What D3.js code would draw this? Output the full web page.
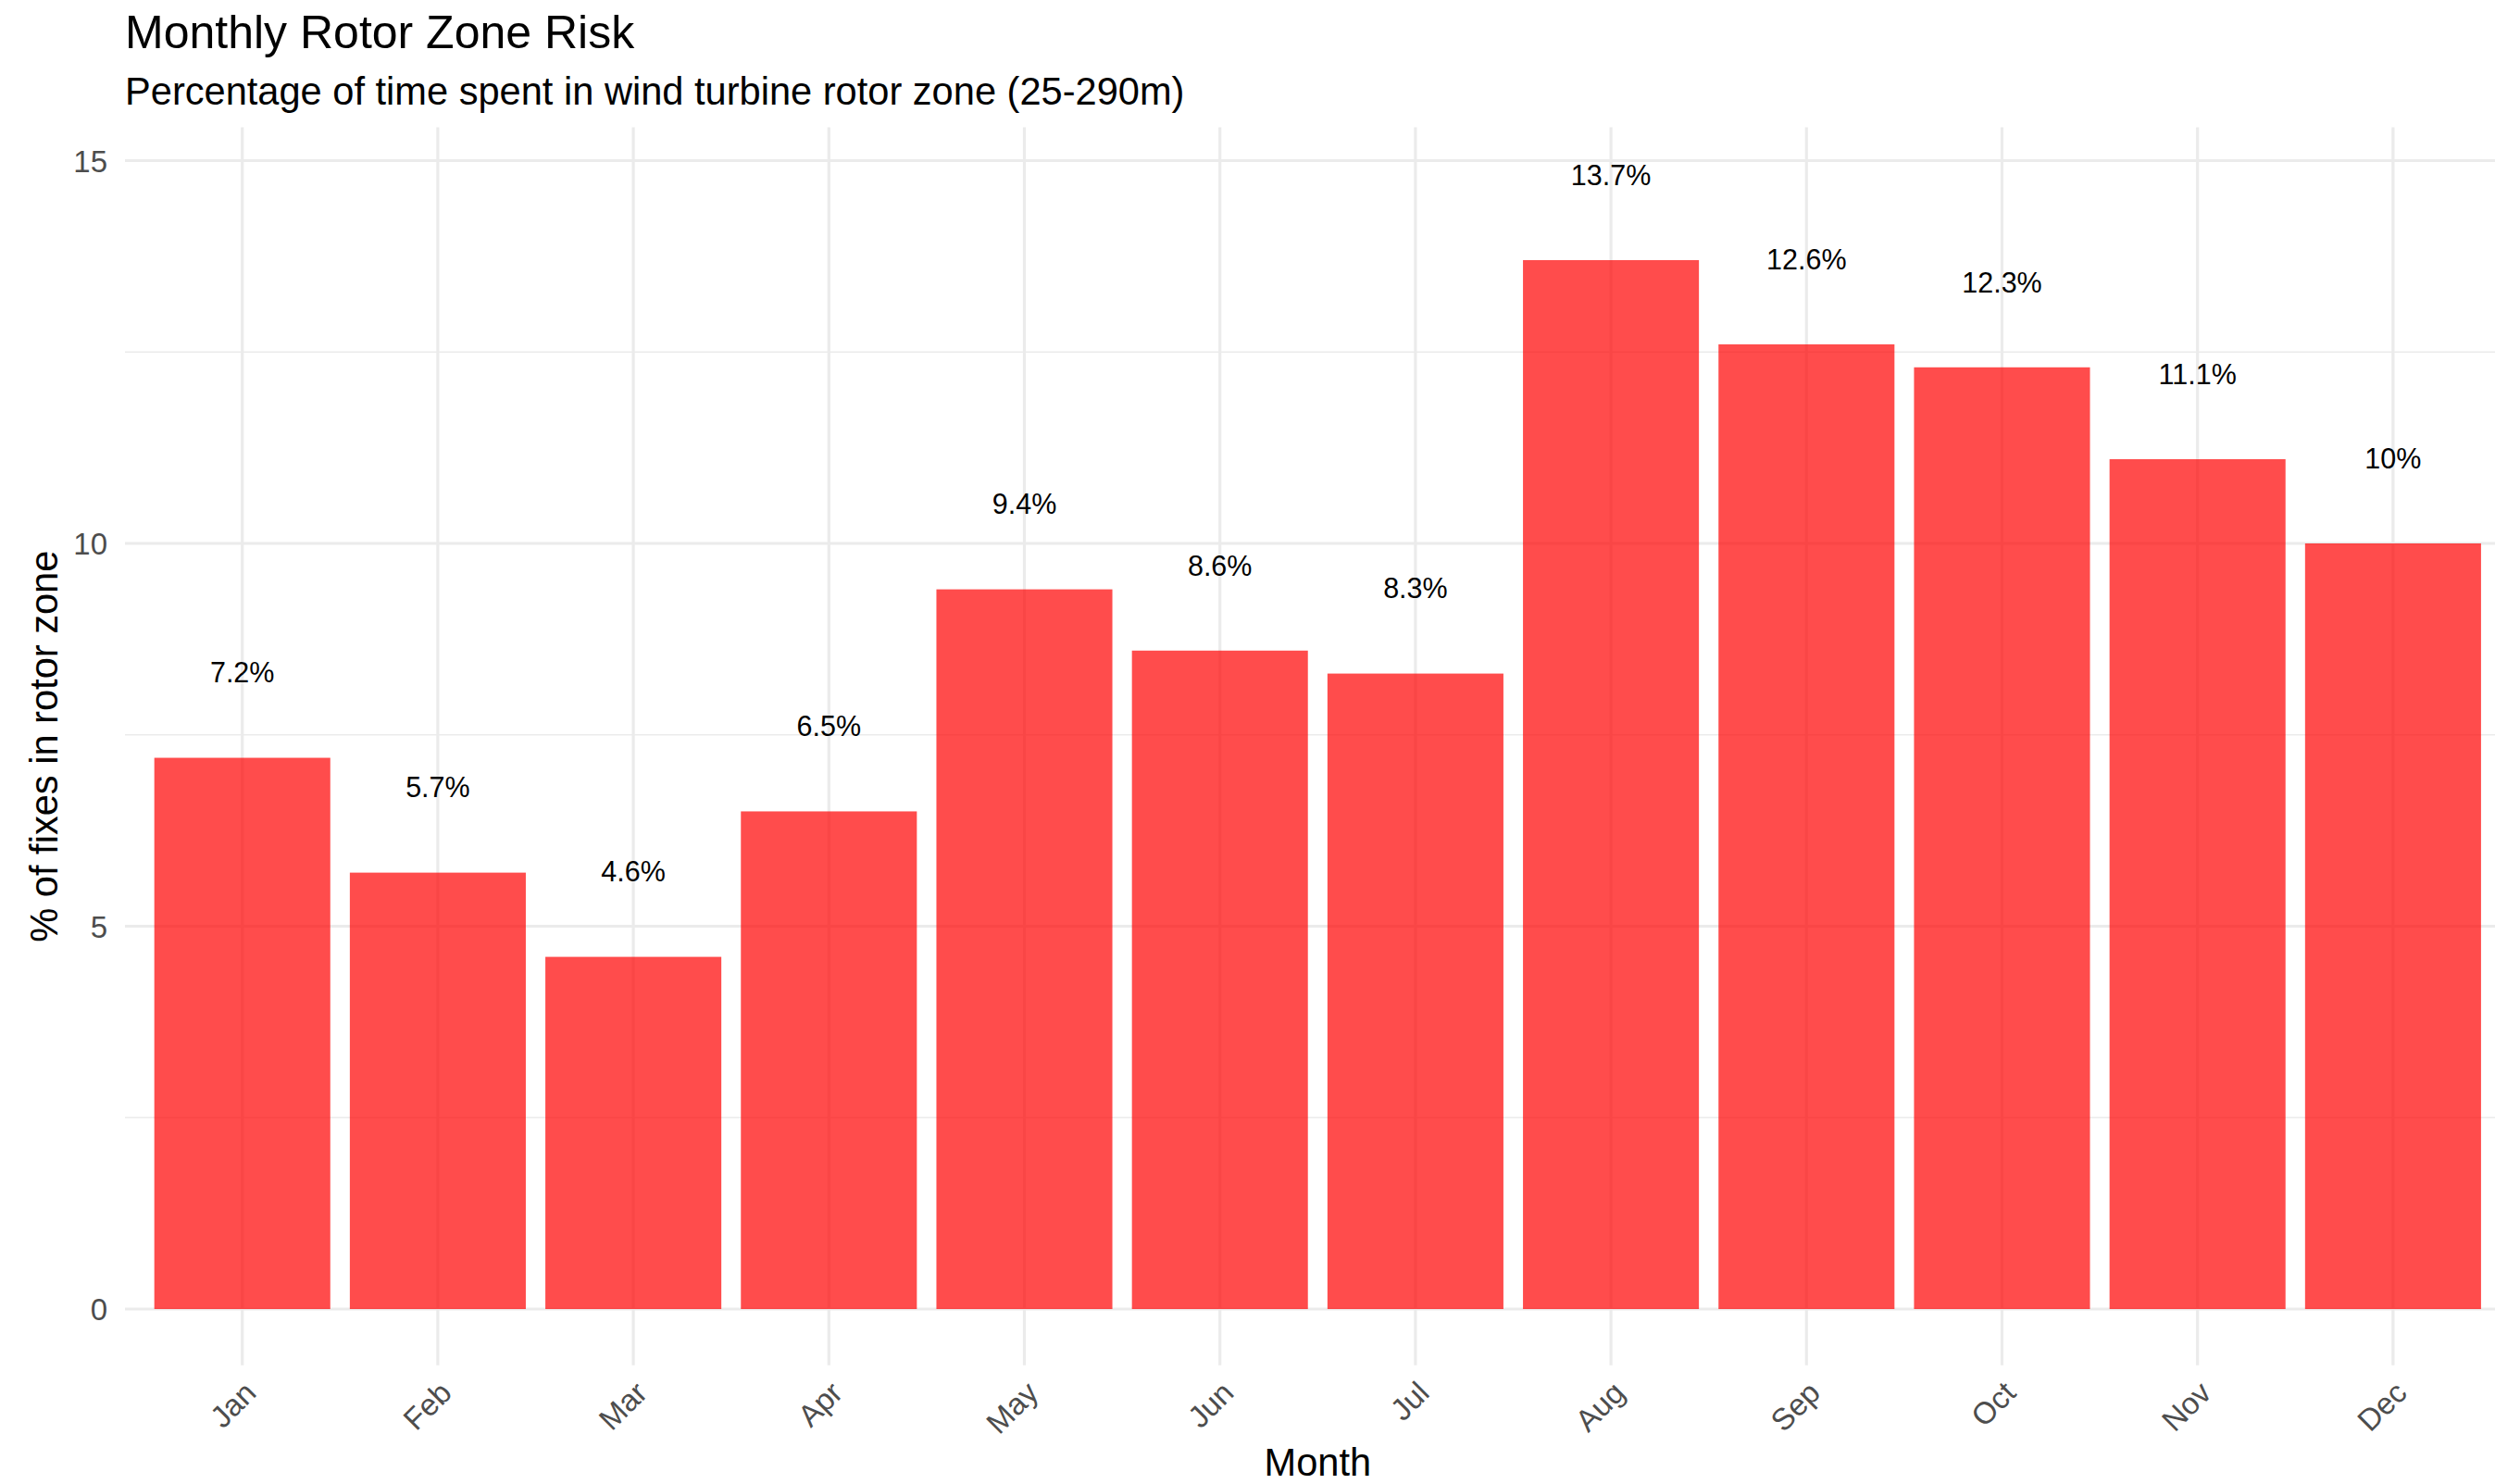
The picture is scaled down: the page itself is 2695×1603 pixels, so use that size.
<!DOCTYPE html>
<html>
<head>
<meta charset="utf-8">
<script src="https://cdn.jsdelivr.net/npm/d3@7"></script>
<style>
  html, body { margin: 0; padding: 0; background: #ffffff; }
  svg { display: block; font-family: "Liberation Sans", Arial, Helvetica, sans-serif; }
</style>
</head>
<body>
<svg id="chart" width="2695" height="1603"></svg>
<script>
// Monthly share of GPS fixes falling inside the rotor-swept height band
const months = ["Jan", "Feb", "Mar", "Apr", "May", "Jun", "Jul", "Aug", "Sep", "Oct", "Nov", "Dec"];
const rotorPct = [7.2, 5.7, 4.6, 6.5, 9.4, 8.6, 8.3, 13.7, 12.6, 12.3, 11.1, 10.0];
const valueLabels = ["7.2%", "5.7%", "4.6%", "6.5%", "9.4%", "8.6%", "8.3%", "13.7%", "12.6%", "12.3%", "11.1%", "10%"];
const yMajorTicks = [0, 5, 10, 15];
const yMinorTicks = [2.5, 7.5, 12.5];
const labelOffset = 1; // labels sit one unit above each bar

const titleText = "Monthly Rotor Zone Risk";
const subtitleText = "Percentage of time spent in wind turbine rotor zone (25-290m)";
const xTitle = "Month";
const yTitle = "% of fixes in rotor zone";

const svg = d3.select("#chart");

// panel geometry
const panel = { left: 135, right: 2711.6, top: 137.5, bottom: 1474.8 };

// y domain: data incl. labels, expanded 5% each side
const yHi = d3.max(rotorPct) + labelOffset;
const yLo = 0;
const pad = (yHi - yLo) * 0.05;
const y = d3.scaleLinear().domain([yLo - pad, yHi + pad]).range([panel.bottom, panel.top]);

const x = d3.scaleBand()
  .domain(months)
  .range([panel.left, panel.right])
  .paddingInner(0.1)
  .paddingOuter(0.15);

const grid = svg.append("g");

// minor horizontal grid
grid.selectAll("line.minor").data(yMinorTicks).join("line")
  .attr("x1", panel.left).attr("x2", panel.right)
  .attr("y1", d => y(d)).attr("y2", d => y(d))
  .attr("stroke", "#EBEBEB").attr("stroke-width", 1.6);

// major horizontal grid
grid.selectAll("line.majorY").data(yMajorTicks).join("line")
  .attr("x1", panel.left).attr("x2", panel.right)
  .attr("y1", d => y(d)).attr("y2", d => y(d))
  .attr("stroke", "#EBEBEB").attr("stroke-width", 3.2);

// vertical grid at month centers
grid.selectAll("line.majorX").data(months).join("line")
  .attr("x1", d => x(d) + x.bandwidth() / 2).attr("x2", d => x(d) + x.bandwidth() / 2)
  .attr("y1", panel.top).attr("y2", panel.bottom)
  .attr("stroke", "#EBEBEB").attr("stroke-width", 3.2);

// bars
svg.append("g").selectAll("rect").data(months).join("rect")
  .attr("x", d => x(d))
  .attr("width", x.bandwidth())
  .attr("y", (d, i) => y(rotorPct[i]))
  .attr("height", (d, i) => y(0) - y(rotorPct[i]))
  .attr("fill", "#FF0000")
  .attr("fill-opacity", 0.7);

// value labels
svg.append("g").selectAll("text").data(months).join("text")
  .attr("x", d => x(d) + x.bandwidth() / 2)
  .attr("y", (d, i) => y(rotorPct[i] + labelOffset) + 1.5)
  .attr("text-anchor", "middle")
  .attr("font-size", 30.5)
  .attr("fill", "#000000")
  .text((d, i) => valueLabels[i]);

// y axis tick labels
const yAxis = d3.axisLeft(y).tickValues(yMajorTicks).tickSize(0).tickPadding(0).tickFormat(d3.format("d"));
svg.append("g")
  .attr("transform", `translate(116,0)`)
  .call(yAxis)
  .call(g => g.select(".domain").remove())
  .call(g => g.selectAll("text")
    .attr("font-size", 33)
    .attr("font-family", "Liberation Sans, Arial, sans-serif")
    .attr("fill", "#4D4D4D")
    .attr("dy", "0.36em"));

// x axis tick labels, rotated 45 degrees
const xAxis = d3.axisBottom(x).tickSize(0).tickPadding(0);
svg.append("g")
  .attr("transform", `translate(0,${panel.bottom + 15})`)
  .call(xAxis)
  .call(g => g.select(".domain").remove())
  .call(g => g.selectAll("text")
    .attr("font-size", 33)
    .attr("font-family", "Liberation Sans, Arial, sans-serif")
    .attr("fill", "#4D4D4D")
    .attr("text-anchor", "end")
    .attr("y", 0)
    .attr("dy", "0.72em")
    .attr("transform", "rotate(-45)"));

// titles
svg.append("text")
  .attr("x", panel.left).attr("y", 52)
  .attr("font-size", 50).attr("fill", "#000000")
  .text(titleText);

svg.append("text")
  .attr("x", panel.left).attr("y", 113)
  .attr("font-size", 41.6).attr("fill", "#000000")
  .text(subtitleText);

svg.append("text")
  .attr("x", (panel.left + panel.right) / 2).attr("y", 1594)
  .attr("text-anchor", "middle")
  .attr("font-size", 41.6).attr("fill", "#000000")
  .text(xTitle);

svg.append("text")
  .attr("transform", `translate(62,${(panel.top + panel.bottom) / 2}) rotate(-90)`)
  .attr("text-anchor", "middle")
  .attr("font-size", 41.6).attr("fill", "#000000")
  .text(yTitle);
</script>
</body>
</html>
